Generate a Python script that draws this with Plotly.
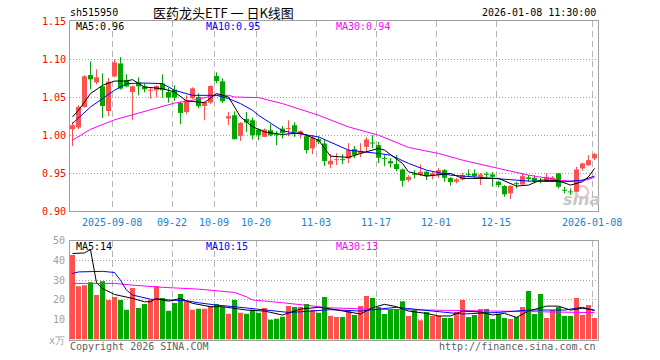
import pandas as pd
import plotly.graph_objects as go

# ---------------- data ----------------
holidays = ["2025-10-01", "2025-10-02", "2025-10-03", "2025-10-06", "2025-10-07",
            "2025-10-08", "2026-01-01", "2026-01-02"]
dates = [d.strftime("%Y-%m-%d") for d in pd.bdate_range("2025-08-28", "2026-01-08")
         if d.strftime("%Y-%m-%d") not in holidays]

opens = [1.0076, 1.0098, 1.0369, 1.0789, 1.0693, 1.0640, 1.0316, 1.0772, 1.0942, 1.0719,
         1.0566, 1.0693, 1.0640, 1.0582, 1.0588, 1.0676, 1.0566, 1.0597, 1.0421, 1.0303,
         1.0483, 1.0500, 1.0382, 1.0427, 1.0776, 1.0706, 1.0217, 1.0260, 0.9988, 1.0211,
         1.0194, 1.0072, 0.9975, 1.0063, 1.0011, 1.0085, 1.0080, 1.0129, 1.0011, 0.9984,
         0.9823, 0.9945, 0.9888, 0.9613, 0.9669, 0.9682, 0.9692, 0.9814, 0.9757, 0.9844,
         0.9897, 0.9866, 0.9695, 0.9656, 0.9617, 0.9547, 0.9407, 0.9486, 0.9472, 0.9516,
         0.9459, 0.9472, 0.9538, 0.9433, 0.9385, 0.9416, 0.9481, 0.9495, 0.9450, 0.9486,
         0.9481, 0.9385, 0.9328, 0.9232, 0.9363, 0.9350, 0.9442, 0.9437, 0.9398, 0.9385,
         0.9398, 0.9495, 0.9276, 0.9253, 0.9253, 0.9560, 0.9604, 0.9692]
highs = [1.0172, 1.0391, 1.0785, 1.0969, 1.0864, 1.0811, 1.0749, 1.0995, 1.1025, 1.0798,
         1.0650, 1.0759, 1.0680, 1.0631, 1.0654, 1.0798, 1.0618, 1.0654, 1.0440, 1.0522,
         1.0627, 1.0549, 1.0444, 1.0654, 1.0824, 1.0745, 1.0303, 1.0312, 1.0170, 1.0303,
         1.0230, 1.0085, 1.0085, 1.0142, 1.0054, 1.0119, 1.0194, 1.0168, 1.0063, 1.0011,
         0.9997, 0.9980, 0.9932, 0.9748, 0.9761, 0.9748, 0.9892, 0.9853, 0.9892, 0.9971,
         0.9997, 0.9909, 0.9735, 0.9696, 0.9735, 0.9560, 0.9472, 0.9538, 0.9613, 0.9525,
         0.9516, 0.9564, 0.9551, 0.9446, 0.9433, 0.9499, 0.9547, 0.9547, 0.9499, 0.9512,
         0.9512, 0.9398, 0.9341, 0.9341, 0.9385, 0.9495, 0.9472, 0.9472, 0.9433, 0.9495,
         0.9459, 0.9499, 0.9319, 0.9298, 0.9581, 0.9634, 0.9735, 0.9765]
lows = [0.9853, 1.0076, 1.0360, 1.0601, 1.0667, 1.0224, 1.0247, 1.0759, 1.0597, 1.0627,
        1.0194, 1.0522, 1.0560, 1.0479, 1.0496, 1.0492, 1.0427, 1.0450, 1.0142, 1.0273,
        1.0470, 1.0352, 1.0194, 1.0410, 1.0680, 1.0421, 1.0129, 0.9941, 0.9923, 1.0041,
        0.9941, 0.9932, 0.9975, 0.9984, 0.9866, 0.9954, 0.9984, 0.9975, 0.9954, 0.9757,
        0.9748, 0.9880, 0.9591, 0.9564, 0.9604, 0.9617, 0.9630, 0.9696, 0.9709, 0.9774,
        0.9827, 0.9630, 0.9591, 0.9573, 0.9525, 0.9319, 0.9385, 0.9429, 0.9459, 0.9407,
        0.9416, 0.9433, 0.9385, 0.9333, 0.9364, 0.9403, 0.9450, 0.9429, 0.9341, 0.9433,
        0.9319, 0.9311, 0.9188, 0.9157, 0.9298, 0.9341, 0.9385, 0.9367, 0.9364, 0.9381,
        0.9381, 0.9298, 0.9232, 0.9210, 0.9249, 0.9529, 0.9591, 0.9669]
closes = [1.0129, 1.0369, 1.0772, 1.0732, 1.0759, 1.0382, 1.0702, 1.0955, 1.0610, 1.0640,
          1.0640, 1.0640, 1.0601, 1.0588, 1.0644, 1.0588, 1.0492, 1.0492, 1.0290, 1.0457,
          1.0614, 1.0378, 1.0434, 1.0644, 1.0710, 1.0444, 1.0247, 0.9945, 1.0159, 1.0164,
          0.9997, 0.9997, 1.0072, 0.9997, 0.9997, 1.0028, 1.0089, 1.0041, 1.0050, 0.9801,
          0.9967, 0.9910, 0.9656, 0.9660, 0.9682, 0.9669, 0.9801, 0.9735, 0.9791, 0.9941,
          0.9888, 0.9700, 0.9686, 0.9626, 0.9551, 0.9398, 0.9450, 0.9476, 0.9516, 0.9459,
          0.9495, 0.9538, 0.9437, 0.9381, 0.9416, 0.9472, 0.9472, 0.9459, 0.9481, 0.9476,
          0.9450, 0.9341, 0.9219, 0.9328, 0.9354, 0.9459, 0.9420, 0.9385, 0.9390, 0.9450,
          0.9442, 0.9319, 0.9267, 0.9245, 0.9547, 0.9626, 0.9669, 0.9748]
volumes = [42.7, 27.0, 27.5, 29.0, 22.5, 29.5, 20.0, 21.5, 20.0, 15.0,
           26.0, 16.0, 18.0, 20.0, 27.0, 21.0, 14.5, 18.5, 23.0, 19.5,
           15.0, 15.5, 15.5, 17.0, 18.0, 16.5, 13.0, 20.0, 13.5, 13.0,
           15.0, 13.5, 16.0, 10.0, 10.5, 11.5, 17.0, 16.5, 16.5, 18.0,
           15.0, 13.5, 21.5, 12.0, 11.4, 11.4, 14.4, 12.4, 16.9, 22.0,
           21.0, 16.4, 12.9, 14.9, 15.4, 19.4, 11.9, 14.9, 9.8, 13.9,
           11.9, 11.9, 10.9, 10.9, 13.9, 20.0, 11.4, 12.4, 15.4, 15.4,
           10.4, 12.9, 10.9, 10.4, 11.4, 16.4, 24.5, 12.9, 23.0, 10.9,
           14.9, 16.4, 11.9, 11.9, 21.0, 12.4, 17.4, 10.9]

# moving averages (candle index, value)
ma5_idx = [0, 1, 3, 5, 7, 9, 10, 12, 15, 17, 19, 22, 24, 26, 28, 30, 32, 35, 38, 41,
           43, 46, 48, 51, 52, 55, 56, 59, 63, 65, 71, 74, 76, 78, 81, 83, 85, 86, 87]
ma5_val = [1.0238, 1.0325, 1.0545, 1.0654, 1.0710, 1.0710, 1.0728, 1.0631, 1.0610, 1.0566,
           1.0448, 1.0427, 1.0545, 1.0500, 1.0238, 1.0109, 1.0041, 1.0007, 1.0028, 0.9932,
           0.9722, 0.9705, 0.9757, 0.9823, 0.9801, 0.9626, 0.9516, 0.9459, 0.9495, 0.9429,
           0.9429, 0.9328, 0.9341, 0.9407, 0.9398, 0.9341, 0.9385, 0.9450, 0.9560]
ma10_idx = [0, 3, 7, 9, 12, 15, 17, 20, 24, 26, 28, 30, 31, 35, 41, 46, 51, 53, 56, 59,
            63, 65, 71, 76, 82, 85, 87]
ma10_val = [1.0151, 1.0369, 1.0588, 1.0676, 1.0684, 1.0676, 1.0588, 1.0522, 1.0522, 1.0479,
            1.0413, 1.0325, 1.0260, 1.0054, 0.9975, 0.9801, 0.9757, 0.9735, 0.9626, 0.9538,
            0.9472, 0.9459, 0.9429, 0.9394, 0.9385, 0.9407, 0.9459]
ma30_idx = [0, 3, 7, 12, 17, 20, 24, 26, 27, 31, 35, 41, 46, 51, 56, 61, 65, 71, 76, 81,
            84, 86, 87]
ma30_val = [0.9932, 1.0075, 1.0200, 1.0305, 1.0420, 1.0457, 1.0525, 1.0522, 1.0500, 1.0492,
            1.0413, 1.0260, 1.0106, 0.9997, 0.9836, 0.9757, 0.9669, 0.9560, 0.9472, 0.9407,
            0.9385, 0.9416, 0.9442]

vma5_idx = [0, 2, 3, 4, 5, 7, 10, 12, 13, 14, 16, 18, 20, 23, 25, 27, 29, 32, 35, 38,
            41, 43, 46, 48, 50, 52, 54, 56, 59, 61, 63, 65, 68, 70, 72, 74, 76, 79, 81, 83,
            85, 87]
vma5_val = [43.5, 43.8, 45.5, 28.7, 25.8, 22.8, 20.8, 19.1, 19.1, 20.8, 19.4, 20.8, 18.3,
            16.6, 16.6, 15.8, 14.9, 14.4, 12.4, 15.4, 16.3, 15.5, 14.0, 12.9, 16.1, 17.8,
            16.6, 14.4, 13.2, 11.9, 11.9, 14.4, 13.9, 12.4, 13.2, 11.2, 14.4, 16.9, 16.9,
            14.9, 15.8, 14.9]
vma10_idx = [0, 1, 5, 7, 8, 9, 10, 13, 16, 19, 21, 24, 27, 31, 36, 38, 43, 48, 54, 60,
             65, 71, 76, 82, 85, 87]
vma10_val = [33.4, 34.2, 34.5, 33.9, 30.0, 25.0, 22.5, 20.4, 20.0, 19.6, 18.6, 17.4, 16.6,
             15.3, 13.7, 14.0, 15.1, 14.4, 16.3, 14.4, 12.9, 13.7, 14.9, 14.9, 16.3, 14.6]
vma30_idx = [0, 7, 10, 15, 21, 27, 29, 30, 35, 43, 51, 60, 68, 76, 87]
vma30_val = [28.4, 28.4, 27.5, 26.4, 25.5, 23.8, 21.6, 20.0, 18.6, 16.0, 15.3, 14.9, 14.4,
             14.4, 13.6]

tick_dates = ["2025-09-08", "2025-09-22", "2025-10-09", "2025-10-20", "2025-11-03",
              "2025-11-17", "2025-12-01", "2025-12-15", "2026-01-08"]
tick_text = ["2025-09-08", "09-22", "10-09", "10-20", "11-03", "11-17", "12-01",
             "12-15", "2026-01-08"]
price_ticks = [0.90, 0.95, 1.00, 1.05, 1.10, 1.15]
vol_ticks = [10, 20, 30, 40, 50]

title_code = "sh515950"
title_name = "医药龙头ETF 一 日K线图"
title_time = "2026-01-08 11:30:00"
ma_labels = ["MA5:0.96", "MA10:0.95", "MA30:0.94"]
vma_labels = ["MA5:14", "MA10:15", "MA30:13"]

# ---------------- style ----------------
W, H = 660, 360
RED, GREEN = "#ff5050", "#00a800"
MA_COLORS = ["#000000", "#0000ff", "#ff00ff"]
MONO = "DejaVu Sans Mono"
L, R = 70, 598
MAIN_T, MAIN_B = 21, 211
VOL_T, VOL_B = 240.7, 339.5

n = len(dates)
idx = list(range(n))
colors = [RED if c >= o else GREEN for o, c in zip(opens, closes)]
body_base = [min(o, c) for o, c in zip(opens, closes)]
body_h = [max(abs(c - o), 0.0013) for o, c in zip(opens, closes)]
grid_pos = [dates.index(d) - 0.4167 for d in tick_dates]

fig = go.Figure()

# wicks
for col in (RED, GREEN):
    wx, wy = [], []
    for i in idx:
        if colors[i] == col:
            wx += [i, i, None]
            wy += [lows[i], highs[i], None]
    fig.add_trace(go.Scatter(x=wx, y=wy, mode="lines", line=dict(color=col, width=1),
                             xaxis="x", yaxis="y", hoverinfo="skip"))
# bodies
fig.add_trace(go.Bar(x=idx, y=body_h, base=body_base, width=0.8333,
                     marker=dict(color=colors, line=dict(width=0)), xaxis="x", yaxis="y"))
# price MAs
for ix, v, c in ((ma30_idx, ma30_val, MA_COLORS[2]), (ma10_idx, ma10_val, MA_COLORS[1]),
                 (ma5_idx, ma5_val, MA_COLORS[0])):
    fig.add_trace(go.Scatter(x=ix, y=v, mode="lines", line=dict(color=c, width=1),
                             xaxis="x", yaxis="y"))
# volume
fig.add_trace(go.Bar(x=idx, y=volumes, width=0.8333,
                     marker=dict(color=colors, line=dict(width=0)), xaxis="x2", yaxis="y2"))
for ix, v, c in ((vma30_idx, vma30_val, MA_COLORS[2]), (vma10_idx, vma10_val, MA_COLORS[1]),
                 (vma5_idx, vma5_val, MA_COLORS[0])):
    fig.add_trace(go.Scatter(x=ix, y=v, mode="lines", line=dict(color=c, width=1),
                             xaxis="x2", yaxis="y2"))

xr = [-0.4167, n - 0.4167]
common_x = dict(range=xr, domain=[L / W, R / W], tickvals=grid_pos, showgrid=True,
                gridcolor="#b4b4b4", griddash="6px,4px", gridwidth=1, showline=True,
                linecolor="#a0a0a0", linewidth=1, mirror=True, zeroline=False, ticks="",
                showticklabels=False, fixedrange=True)
fig.update_layout(
    width=W, height=H, margin=dict(l=0, r=0, t=0, b=0),
    paper_bgcolor="white", plot_bgcolor="white", showlegend=False, barmode="overlay",
    xaxis=dict(common_x, anchor="y"),
    xaxis2=dict(common_x, anchor="y2", matches="x"),
    yaxis=dict(range=[price_ticks[0], price_ticks[-1]],
               domain=[1 - MAIN_B / H, 1 - MAIN_T / H], tickvals=price_ticks[1:-1],
               showticklabels=False, showgrid=True, gridcolor="#a0a0a0", griddash="1px,2px",
               showline=True, linecolor="#a0a0a0", linewidth=1, mirror=True,
               zeroline=False, ticks="", fixedrange=True),
    yaxis2=dict(range=[0, vol_ticks[-1]], domain=[1 - VOL_B / H, 1 - VOL_T / H],
                tickvals=vol_ticks[:-1], showticklabels=False, showgrid=True,
                gridcolor="#a0a0a0", griddash="1px,2px", showline=True,
                linecolor="#a0a0a0", linewidth=1, mirror=True, zeroline=False, ticks="",
                fixedrange=True),
)

ann = []
def text(x, y, s, color, size=10, anchor="left", family=MONO, **kw):
    ann.append(dict(x=x / W, y=1 - y / H, xref="paper", yref="paper", text=s,
                    showarrow=False, xanchor=anchor, yanchor="middle", borderpad=0,
                    font=dict(family=family, size=size, color=color, **kw)))

for p in price_ticks:
    ann.append(dict(x=66.5 / W, xref="paper", y=p, yref="y", text=f"{p:.2f}",
                    showarrow=False, xanchor="right", yanchor="middle", borderpad=0,
                    font=dict(family=MONO, size=10, color="#ff0000")))
for v in vol_ticks:
    ann.append(dict(x=66 / W, xref="paper", y=v, yref="y2", text=str(v),
                    showarrow=False, xanchor="right", yanchor="middle", borderpad=0,
                    font=dict(family=MONO, size=10, color="#a0a0a0")))
for gp, t in zip(grid_pos, tick_text):
    ann.append(dict(x=gp, xref="x", y=1 - 222 / H, yref="paper", text=t,
                    showarrow=False, xanchor="center", yanchor="middle", borderpad=0,
                    font=dict(family=MONO, size=10, color="#1a7fd0")))
text(66, 340, "x万", "#a0a0a0", anchor="right")

text(69, 13, title_code, "#000000")
text(223, 13, title_name, "#000000", size=13, anchor="center", family="Noto Sans CJK SC")
text(597, 13, title_time, "#000000", anchor="right")

for x0, s, c in zip((75, 205, 335), ma_labels, MA_COLORS):
    text(x0, 27, s, c)
for x0, s, c in zip((75, 205, 335), vma_labels, MA_COLORS):
    text(x0, 246.5, s, c)

text(69, 346, "Copyright 2026 SINA.COM", "#606060")
text(597, 346, "http://finance.sina.com.cn", "#606060", anchor="right")
# sina watermark
text(581, 199, "sina", "#c8c8c8", size=16, anchor="center", family="DejaVu Sans",
     weight="bold", style="italic")

fig.update_layout(
    annotations=ann,
    shapes=[dict(type="circle", xref="paper", yref="paper", layer="below",
                 x0=576 / W, x1=588 / W, y0=1 - 198 / H, y1=1 - 186 / H,
                 line=dict(color="rgba(235,110,110,0.45)", width=2))],
)
fig.write_html("out.html", config={"displayModeBar": False, "staticPlot": True},
               post_script="document.body.style.margin='0';"
                           "document.body.style.overflow='hidden';")
